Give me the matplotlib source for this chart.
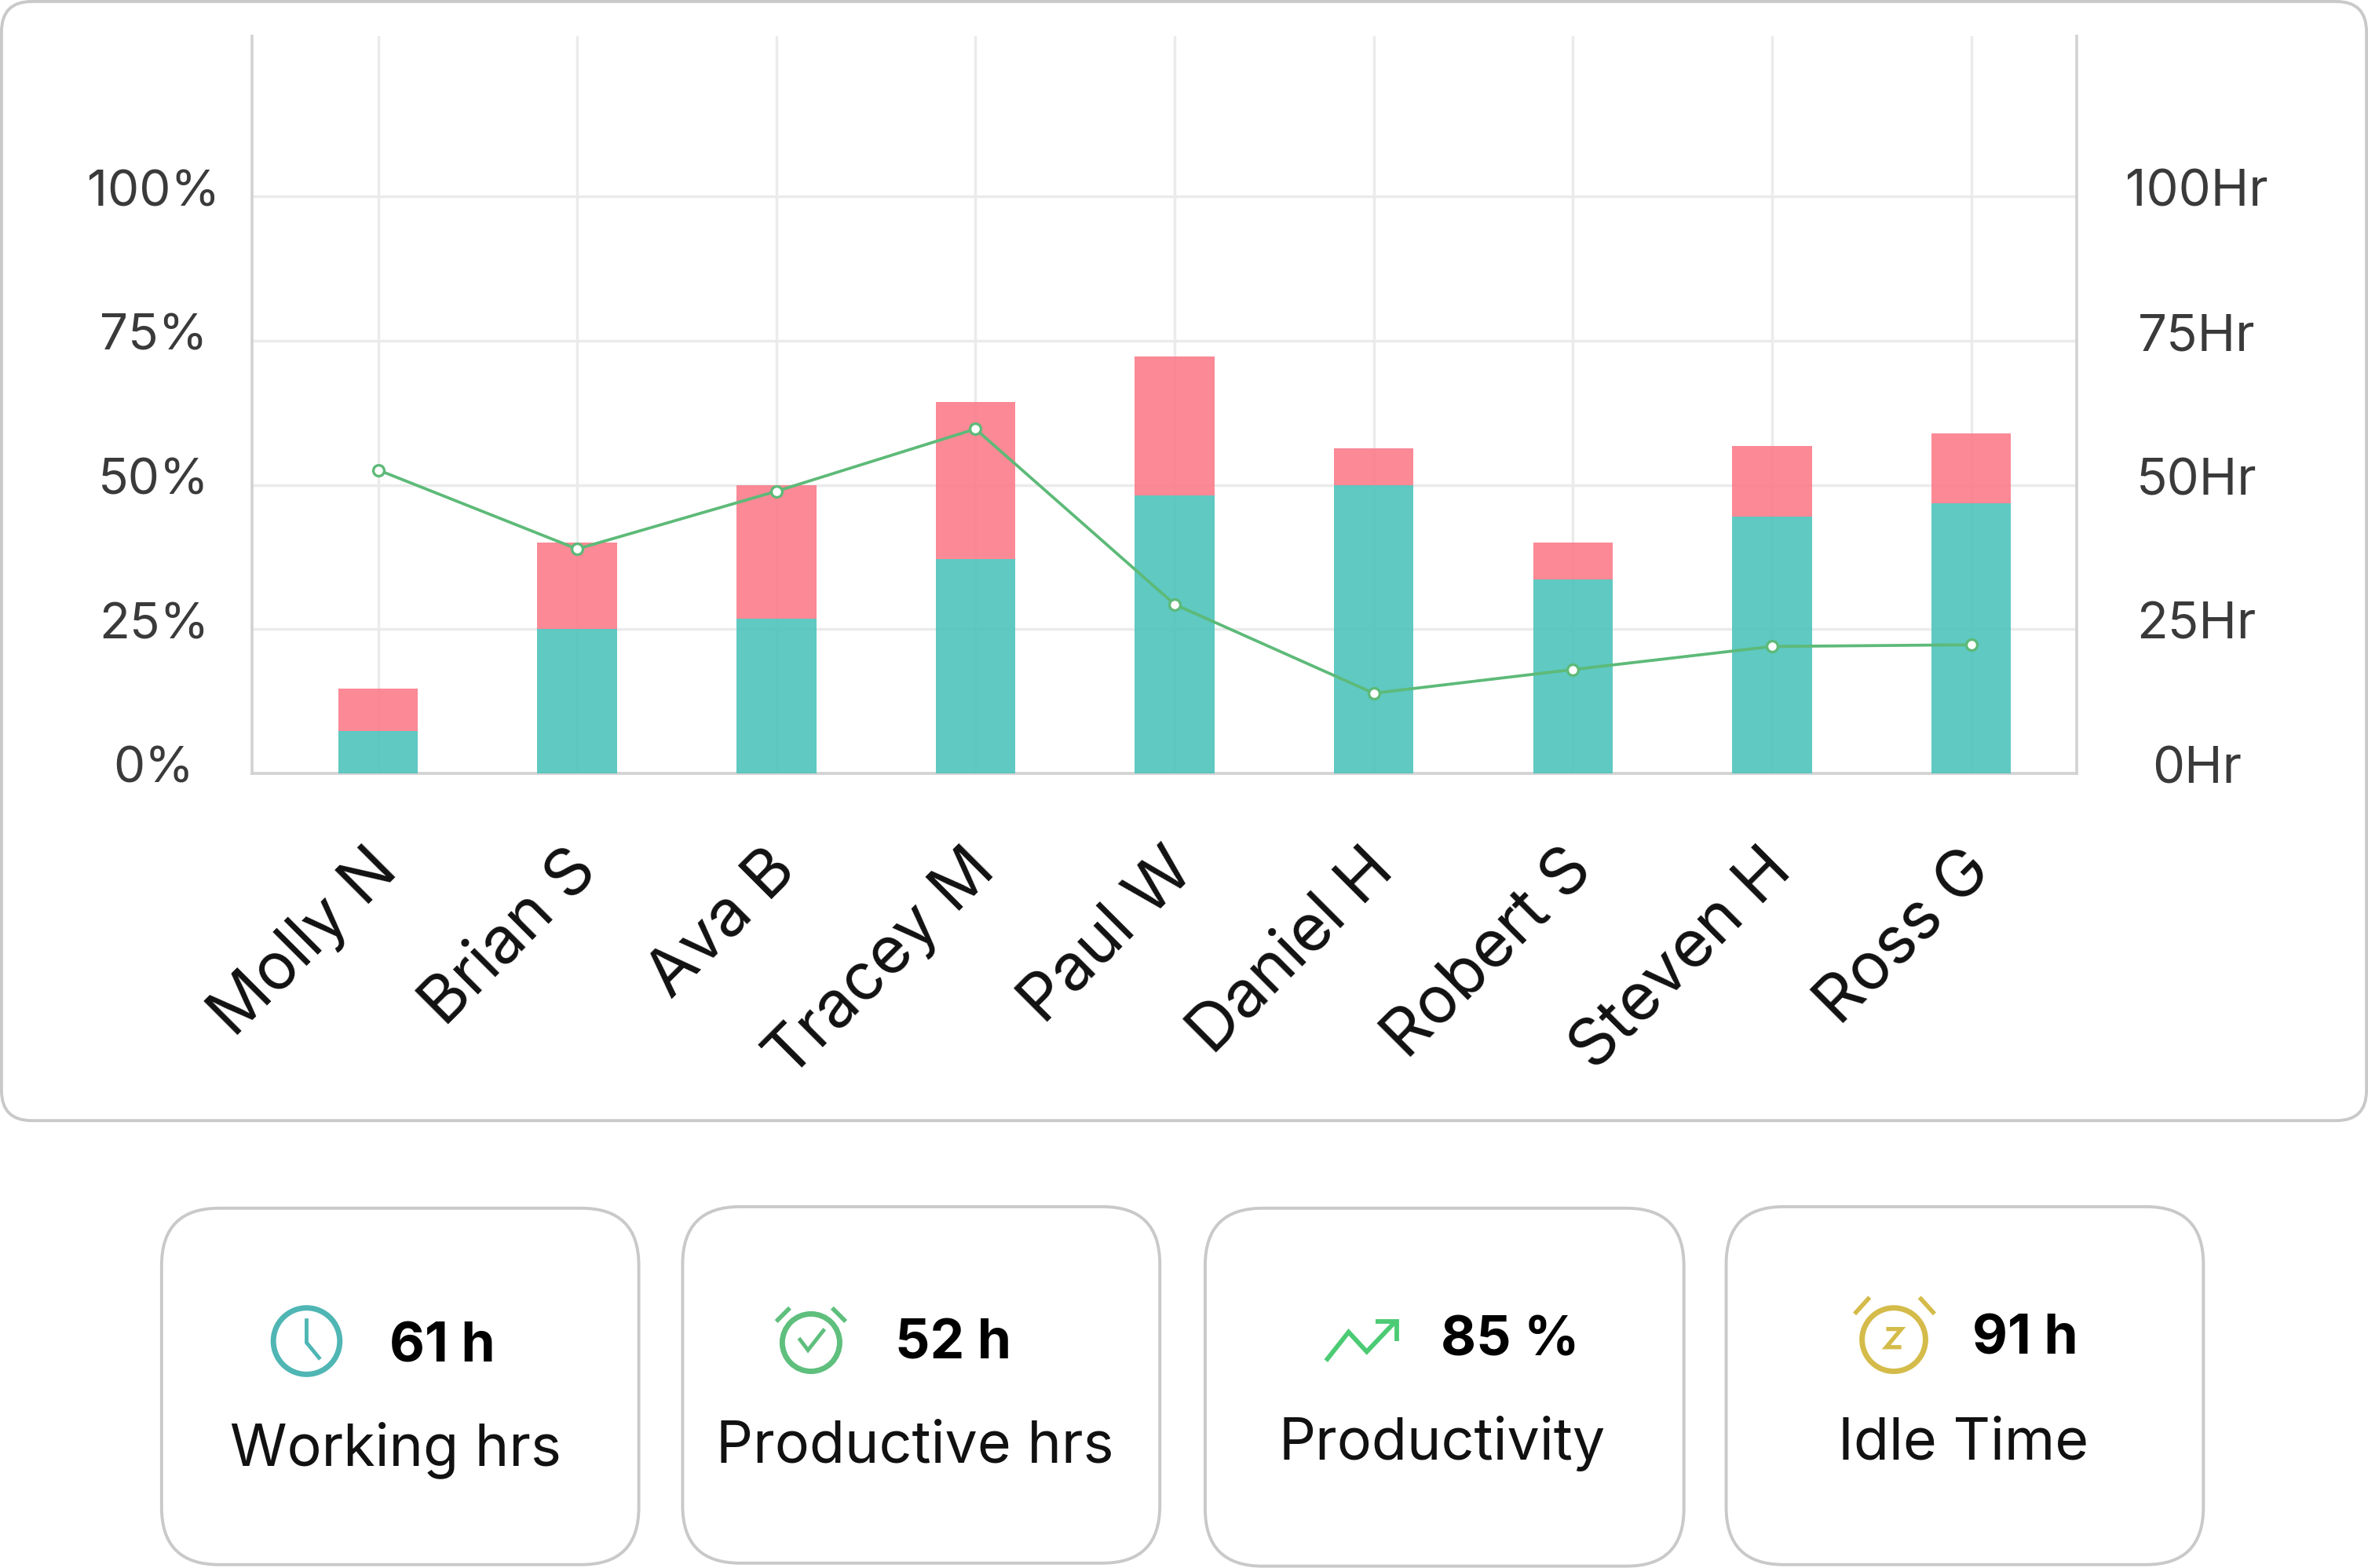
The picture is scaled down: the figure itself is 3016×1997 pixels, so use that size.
import numpy as np
import matplotlib
matplotlib.use("Agg")
import matplotlib.pyplot as plt
from matplotlib.patches import FancyBboxPatch, Circle
from matplotlib.transforms import ScaledTranslation

names = ["Molly N", "Brian S", "Ava B", "Tracey M", "Paul W", "Daniel H", "Robert S", "Steven H", "Ross G"]
productive = [7.3, 25, 26.8, 37.2, 48.2, 50, 33.6, 44.5, 46.8]
idle = [7.4, 15, 23.2, 27.2, 24.1, 6.3, 6.4, 12.3, 12.1]
trend = [52.6, 38.9, 48.9, 59.7, 29.3, 13.9, 18, 22, 22.3]
y_ticks = [0, 25, 50, 75, 100]
left_labels = ["0%", "25%", "50%", "75%", "100%"]
right_labels = ["0Hr", "25Hr", "50Hr", "75Hr", "100Hr"]

card_values = ["61 h", "52 h", "85 %", "91 h"]
card_labels = ["Working hrs", "Productive hrs", "Productivity", "Idle Time"]

W, H = 3016, 1997
S = W / 1568  # sizes below were measured on a 1568 wide view

plt.rcParams["font.family"] = ["Inter", "DejaVu Sans"]
fig = plt.figure(figsize=(W / 100, H / 100), dpi=100)

# background layer in pixel coords, for the cards and icons
bg = fig.add_axes([0, 0, 1, 1])
bg.set_xlim(0, W)
bg.set_ylim(H, 0)
bg.axis("off")


def card(x0, y0, x1, y1, r):
    bg.add_patch(FancyBboxPatch((x0 * S, y0 * S), (x1 - x0) * S, (y1 - y0) * S,
                                boxstyle=f"round,pad=0,rounding_size={r * S}",
                                fc="white", ec="#c9c9c9", lw=2.8))


card(1, 1, 1567, 742, 20)
small_cards = [(107, 800, 423, 1036), (452, 799, 768, 1035), (798, 800, 1115, 1037), (1143, 799, 1459, 1036)]
for c in small_cards:
    card(*c, 38)

value_pos = [(293, 892), (631, 890), (1000, 888), (1341, 887)]
label_pos = [(262, 960), (606, 958), (955, 956), (1300, 956)]
for val, lab, vp, lp in zip(card_values, card_labels, value_pos, label_pos):
    bg.text(vp[0] * S, vp[1] * S, val, ha="center", va="center", fontsize=50, fontweight="bold", color="black")
    bg.text(lp[0] * S, lp[1] * S, lab, ha="center", va="center", fontsize=53, color="#111111")


def ring(cx, cy, r, color):
    bg.add_patch(Circle((cx * S, cy * S), r * S, fc="none", ec=color, lw=5))


def stroke(xs, ys, color, lw=4):
    bg.plot(np.array(xs) * S, np.array(ys) * S, color=color, lw=lw, solid_capstyle="butt", solid_joinstyle="miter")


# clock
ring(203, 888, 22, "#4fb6b4")
stroke([203, 203, 212], [873, 889, 900], "#4fb6b4", 3.5)
# alarm with tick
ring(537, 889, 19, "#5fbf7d")
stroke([514, 523], [875, 866], "#5fbf7d")
stroke([560, 551], [875, 866], "#5fbf7d")
stroke([529, 535, 546], [886, 894, 880], "#5fbf7d", 3.5)
# trending arrow
stroke([878, 893, 905, 924], [901, 882, 895, 875], "#4ccb74", 4.2)
stroke([911, 925, 925], [875, 875, 888], "#4ccb74", 4.2)
# idle alarm
ring(1254, 887, 21, "#d4bb4a")
stroke([1228, 1238], [870, 859], "#d4bb4a")
stroke([1281, 1271], [870, 859], "#d4bb4a")
stroke([1249, 1259, 1249, 1259], [880, 880, 892, 892], "#d4bb4a", 3.8)

# chart, axes box from the reference
ax_l, ax_r, ax_t, ax_b = 321, 2645, 46, 985
ax = fig.add_axes([ax_l / W, 1 - ax_b / H, (ax_r - ax_l) / W, (ax_b - ax_t) / H])
ax.patch.set_alpha(0)
x = np.arange(len(names))
ax.bar(x, productive, width=0.4, color="#4ec3bc", alpha=0.9, zorder=3)
ax.bar(x, idle, width=0.4, bottom=productive, color="#fb7c8b", alpha=0.9, zorder=3)
ax.set_xlim(-0.633, 8.53)
ax.set_ylim(0, 127.8)
ax.grid(True, color="#ebebeb", lw=2.5, zorder=0)
ax.set_axisbelow(True)
for s in ["left", "bottom", "right"]:
    ax.spines[s].set_color("#d2d2d2")
    ax.spines[s].set_linewidth(2.6)
ax.spines["top"].set_visible(False)

ax.set_xticks(x)
ax.set_xticklabels(names, rotation=45, ha="right", rotation_mode="anchor", fontsize=60, color="#111111")
ax.tick_params(axis="x", length=0, pad=60)
ax.set_yticks(y_ticks)
ax.set_yticklabels(left_labels, ha="center", fontsize=46, color="#3a3a3a")
ax.tick_params(axis="y", length=0, pad=90)

shift_up = ScaledTranslation(0, 8 / 72, fig.dpi_scale_trans)
shift_l = ScaledTranslation(-11 / 72, 0, fig.dpi_scale_trans)
for lab in ax.get_yticklabels():
    lab.set_transform(lab.get_transform() + shift_up)
for lab in ax.get_xticklabels():
    lab.set_transform(lab.get_transform() + shift_l)

ax2 = ax.twinx()
ax2.set_ylim(ax.get_ylim())
ax2.plot(x, trend, color="#5dba78", lw=2.7, marker="o", ms=10, mfc="white", mec="#5dba78", mew=2.4, zorder=5)
ax2.set_yticks(y_ticks)
ax2.set_yticklabels(right_labels, ha="center", fontsize=47, color="#3a3a3a")
ax2.tick_params(axis="y", length=0, pad=110)
for s in ax2.spines.values():
    s.set_visible(False)
for lab in ax2.get_yticklabels():
    lab.set_transform(lab.get_transform() + shift_up)

fig.savefig("out.png", dpi=100, facecolor="white")
